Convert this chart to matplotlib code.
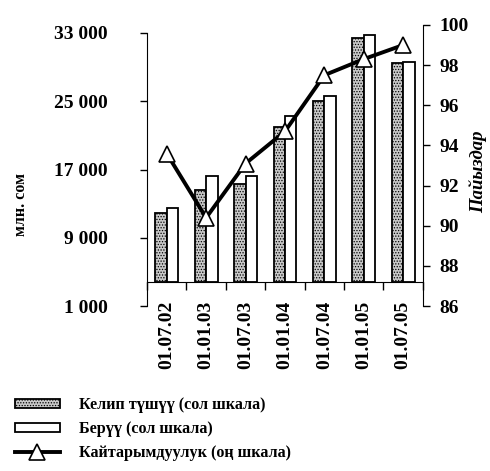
import matplotlib
matplotlib.use('Agg')
import matplotlib.pyplot as plt
import numpy as np

# Данные
categories = ['01.07.02', '01.01.03', '01.07.03', '01.01.04', '01.07.04', '01.01.05', '01.07.05']
inflow = [11900, 14550, 15300, 22000, 25000, 32400, 29450]      # Келип түшүү
outflow = [12500, 16300, 16300, 23250, 25600, 32800, 29650]     # Берүү
ratio = [93.6, 90.4, 93.1, 94.7, 97.5, 98.3, 99.0]              # Кайтарымдуулук
left_ticks = [1000, 9000, 17000, 25000, 33000]
left_labels = ['1 000', '9 000', '17 000', '25 000', '33 000']
right_ticks = [86, 88, 90, 92, 94, 96, 98, 100]

base = 3800  # where the category axis crosses

plt.rcParams['font.family'] = ['Liberation Serif', 'DejaVu Serif']
plt.rcParams['font.weight'] = 'bold'
plt.rcParams['hatch.linewidth'] = 0.6

fig = plt.figure(figsize=(4.9, 4.71), dpi=100)
ax = fig.add_axes([0.30, 0.35, 0.563, 0.597])
ax2 = ax.twinx()

x = np.arange(len(categories))
w = 0.29
ax.bar(x - w / 2, np.array(inflow) - base, w, bottom=base, facecolor='#c8c8c8',
       edgecolor='black', linewidth=1.3, hatch='......', label='Келип түшүү (сол шкала)')
ax.bar(x + w / 2, np.array(outflow) - base, w, bottom=base, facecolor='white',
       edgecolor='black', linewidth=1.3, label='Берүү (сол шкала)')

ax2.plot(x, ratio, color='black', linewidth=2.8, marker='^', markersize=12,
         markerfacecolor='white', markeredgecolor='black', markeredgewidth=1.2,
         label='Кайтарымдуулук (оң шкала)')

ax.set_xlim(-0.5, len(categories) - 0.5)
ax.set_ylim(1000, 33000 + 8000 * 8 / 68)
ax2.set_ylim(86, 100)

ax.set_yticks(left_ticks)
ax.set_yticklabels(left_labels, fontsize=14, fontweight='bold')
ax.tick_params(axis='y', direction='out', length=5, pad=23, width=1)
ax.spines['left'].set_bounds(1000, 33000)
ax.spines['top'].set_visible(False)
ax.spines['right'].set_visible(False)
ax.spines['bottom'].set_position(('data', base))

ax.set_xticks(x)
ax.set_xticklabels(categories, rotation=90, fontsize=14, fontweight='bold')
ax.set_xticks(np.arange(len(categories) + 1) - 0.5, minor=True)
ax.tick_params(axis='x', which='major', length=0, pad=13)
ax.tick_params(axis='x', which='minor', length=6, direction='out', width=1)

ax2.set_yticks(right_ticks)
ax2.set_yticklabels([str(t) for t in right_ticks], fontsize=14, fontweight='bold')
ax2.tick_params(axis='y', direction='out', length=5, pad=7, width=1)
for s in ['top', 'left', 'bottom']:
    ax2.spines[s].set_visible(False)

fig.text(0.043, 0.565, 'млн. сом', rotation=90, fontsize=11.5, fontweight='bold',
         ha='center', va='center')
fig.text(0.975, 0.635, 'Пайыздар', rotation=90, fontsize=13.5, fontweight='bold',
         style='italic', ha='center', va='center')

h1, l1 = ax.get_legend_handles_labels()
h2, l2 = ax2.get_legend_handles_labels()
fig.legend(h1 + h2, l1 + l2, loc='lower left', bbox_to_anchor=(0.0, -0.01),
           frameon=False, prop={'size': 11.6, 'weight': 'bold'},
           handlelength=2.8, handleheight=0.5, labelspacing=0.5, handletextpad=1.2)

plt.savefig('out.png', dpi=100)
plt.close()
